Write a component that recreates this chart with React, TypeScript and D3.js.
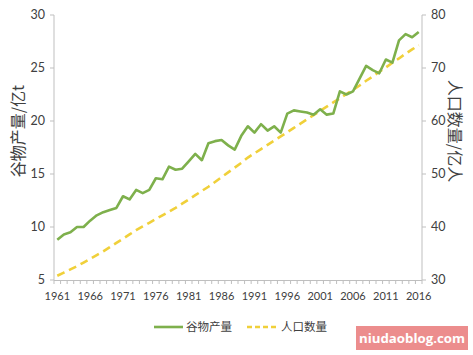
import React from "react";
import * as d3 from "d3";

const years: number[] = d3.range(1961, 2017);
const grain: number[] = [
  8.8, 9.3, 9.5, 10.0, 10.0, 10.6, 11.1, 11.4, 11.6, 11.8,
  12.9, 12.6, 13.5, 13.2, 13.5, 14.6, 14.5, 15.7, 15.4, 15.5,
  16.2, 16.9, 16.3, 17.9, 18.1, 18.2, 17.7, 17.3, 18.6, 19.5,
  18.9, 19.7, 19.1, 19.5, 18.9, 20.7, 21.0, 20.9, 20.8, 20.6,
  21.1, 20.6, 20.7, 22.8, 22.5, 22.8, 24.0, 25.2, 24.8, 24.5,
  25.8, 25.5, 27.6, 28.2, 27.9, 28.4,
];
const population: number[] = [
  30.8, 31.4, 32.0, 32.6, 33.3, 34.0, 34.7, 35.4, 36.2, 37.0,
  37.8, 38.6, 39.4, 40.1, 40.8, 41.5, 42.2, 42.9, 43.6, 44.4,
  45.2, 46.0, 46.8, 47.6, 48.5, 49.4, 50.3, 51.2, 52.1, 53.1,
  53.9, 54.7, 55.5, 56.3, 57.1, 57.9, 58.7, 59.5, 60.3, 61.1,
  61.9, 62.7, 63.5, 64.3, 65.1, 65.9, 66.7, 67.6, 68.4, 69.3,
  70.1, 71.0, 71.8, 72.7, 73.5, 74.3,
];
const leftTicks: number[] = [5, 10, 15, 20, 25, 30];
const rightTicks: number[] = [30, 40, 50, 60, 70, 80];
const yearLabels: number[] = [1961, 1966, 1971, 1976, 1981, 1986, 1991, 1996, 2001, 2006, 2011, 2016];
const seriesNames: string[] = ["谷物产量", "人口数量"];
const leftTitle = "谷物产量/亿t";
const rightTitle = "人口数量/亿人";
const watermark = "niudaoblog.com";

const W = 473, H = 355;
const L = 54, R = 422, T = 15, B = 280;
const GREEN = "#7eb04c";
const YELLOW = "#f0d03a";
const AXIS = "#bfbfbf";
const TXT = "#404040";
const NUM_FONT = "Lato, 'Open Sans', sans-serif";
const CJK_FONT = "'Noto Sans CJK SC', sans-serif";

export default function App() {
  const x = d3.scaleBand<number>().domain(years).range([L, R]);
  const cx = (yr: number) => (x(yr) as number) + x.bandwidth() / 2;
  const yL = d3.scaleLinear().domain([5, 30]).range([B, T]);
  const yR = d3.scaleLinear().domain([30, 80]).range([B, T]);

  const grainLine = d3.line<number>().x((_, i) => cx(years[i])).y((d) => yL(d))(grain) as string;
  const popLine = d3.line<number>().x((_, i) => cx(years[i])).y((d) => yR(d))(population) as string;

  const boundaries = d3.range(0, years.length + 1).map((i) => L + i * x.step());

  return (
    <svg width={W} height={H} style={{ position: "fixed", left: 0, top: 0, background: "#fff" }}>
      <rect x={0} y={0} width={W} height={H} fill="#fff" />
      {/* axes */}
      <line x1={L} x2={L} y1={T} y2={B} stroke={AXIS} />
      <line x1={R} x2={R} y1={T} y2={B} stroke={AXIS} />
      <line x1={L} x2={R} y1={B + 0.5} y2={B + 0.5} stroke={AXIS} />
      {boundaries.map((bx, i) => (
        <line key={"bt" + i} x1={bx} x2={bx} y1={B} y2={B + 4} stroke={AXIS} />
      ))}
      {leftTicks.map((t) => (
        <g key={"l" + t}>
          <line x1={L - 4} x2={L} y1={yL(t)} y2={yL(t)} stroke={AXIS} />
          <text x={L - 9} y={yL(t)} dy="0.35em" textAnchor="end" fontSize={12.5} fontFamily={NUM_FONT} fill={TXT}>{t}</text>
        </g>
      ))}
      {rightTicks.map((t) => (
        <g key={"r" + t}>
          <line x1={R} x2={R + 4} y1={yR(t)} y2={yR(t)} stroke={AXIS} />
          <text x={R + 9} y={yR(t)} dy="0.35em" textAnchor="start" fontSize={12.5} fontFamily={NUM_FONT} fill={TXT}>{t}</text>
        </g>
      ))}
      {yearLabels.map((yr) => (
        <text key={"y" + yr} x={cx(yr)} y={B + 20} textAnchor="middle" fontSize={11} fontFamily={NUM_FONT} fill={TXT}>{yr}</text>
      ))}
      {/* axis titles */}
      <text transform={`translate(24,131) rotate(-90)`} textAnchor="middle" fontSize={16} fontFamily={CJK_FONT} fill={TXT}>{leftTitle}</text>
      <text transform={`translate(449,131) rotate(90)`} textAnchor="middle" fontSize={16} fontFamily={CJK_FONT} fill={TXT}>{rightTitle}</text>
      {/* series */}
      <path d={popLine} fill="none" stroke={YELLOW} strokeWidth={2.6} strokeDasharray="8 5" />
      <path d={grainLine} fill="none" stroke={GREEN} strokeWidth={2.6} strokeLinejoin="round" />
      {/* legend */}
      <line x1={154} x2={183} y1={327} y2={327} stroke={GREEN} strokeWidth={2.6} />
      <text x={186} y={327} dy="0.35em" fontSize={11.5} fontFamily={CJK_FONT} fill={TXT}>{seriesNames[0]}</text>
      <line x1={247} x2={278} y1={327} y2={327} stroke={YELLOW} strokeWidth={2.6} strokeDasharray="5 3" />
      <text x={281} y={327} dy="0.35em" fontSize={11.5} fontFamily={CJK_FONT} fill={TXT}>{seriesNames[1]}</text>
      {/* watermark */}
      <rect x={356} y={326} width={112} height={24} fill="#ec8d8d" />
      <text x={359} y={338} dy="0.35em" fontSize={13} fontWeight="bold" fontFamily="'Open Sans', sans-serif" fill="#fff" textLength={106} lengthAdjust="spacingAndGlyphs">{watermark}</text>
    </svg>
  );
}
